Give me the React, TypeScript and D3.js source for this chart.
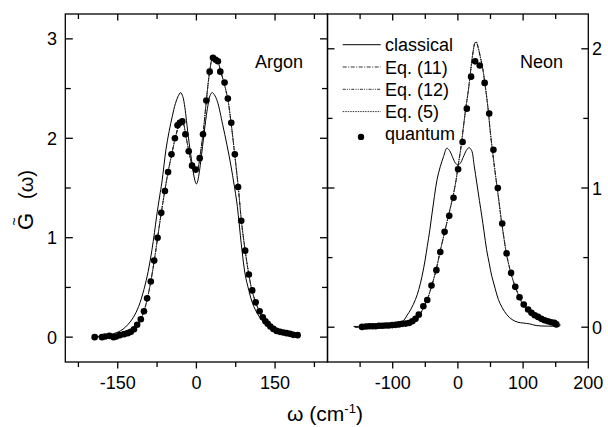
import React from "react";
import * as d3 from "d3";

type P = [number, number];

// ---------- Argon panel data ----------
const argonClassical: P[] = [
  [-195, 0.005], [-180, 0.012], [-165, 0.025], [-150, 0.05], [-140, 0.08], [-130, 0.13], [-120, 0.2],
  [-110, 0.31], [-100, 0.48], [-92, 0.66], [-85, 0.87], [-80, 1.05], [-76, 1.21], [-70, 1.42], [-66, 1.55],
  [-62, 1.72], [-58, 1.89], [-52, 2.07], [-46, 2.22], [-40, 2.35], [-35, 2.42], [-30, 2.46], [-26, 2.42],
  [-22, 2.31], [-19, 2.18], [-14, 1.96], [-9.5, 1.79], [-5, 1.63], [-2, 1.56], [0, 1.54], [2, 1.56],
  [5, 1.64], [9.5, 1.82], [14, 2.02], [19, 2.23], [23, 2.36], [26, 2.43], [30, 2.46], [34, 2.44],
  [40, 2.37], [50, 2.14], [58, 1.94], [66, 1.72], [72, 1.53], [77, 1.36], [81, 1.17], [87, 0.87],
  [93, 0.63], [100, 0.47], [107, 0.34], [117, 0.23], [125, 0.17], [133, 0.13], [145, 0.09], [155, 0.065],
  [170, 0.04], [185, 0.025], [195, 0.015],
];

const argonEq: P[] = [
  [-190, 0.003], [-170, 0.008], [-150, 0.015], [-135, 0.03], [-125, 0.05], [-115, 0.1], [-107, 0.17],
  [-100, 0.26], [-93, 0.4], [-87, 0.56], [-80, 0.78], [-74, 1.0], [-67, 1.25], [-60, 1.48], [-54, 1.66],
  [-47, 1.84], [-40, 2.01], [-34, 2.12], [-29, 2.17], [-25, 2.15], [-20, 2.02], [-14, 1.86], [-8, 1.72],
  [-3, 1.66], [0, 1.66], [4, 1.72], [8, 1.86], [13, 2.06], [19, 2.38], [25, 2.66], [30, 2.8], [34, 2.83],
  [40, 2.79], [46, 2.68], [53, 2.55], [60, 2.39], [66, 2.16], [73, 1.84], [80, 1.5], [86, 1.16],
  [93, 0.87], [100, 0.63], [106, 0.47], [113, 0.35], [120, 0.26], [127, 0.19], [135, 0.14], [145, 0.09],
  [155, 0.06], [165, 0.045], [175, 0.035], [185, 0.025], [195, 0.02],
];

const argonQuantum: P[] = [
  [-194, 0.0], [-180, 0.0], [-174, 0.006], [-166, 0.013], [-158, 0.0], [-153, 0.006], [-146, 0.02],
  [-138, 0.03], [-131, 0.04], [-125, 0.053], [-119, 0.08], [-113, 0.124], [-106, 0.18], [-100, 0.26],
  [-94, 0.39], [-87, 0.56], [-80.5, 0.77], [-74, 1.0], [-67, 1.25], [-60, 1.47], [-54, 1.66],
  [-47.5, 1.84], [-41, 2.0], [-36, 2.13], [-31.5, 2.155], [-27, 2.17], [-21, 2.04], [-14.6, 1.87],
  [-8.3, 1.725], [-1.3, 1.685], [6.3, 1.8], [12.6, 2.04], [19, 2.38], [25.3, 2.67], [31.6, 2.81],
  [36.7, 2.79], [41, 2.775], [45.6, 2.67], [53.7, 2.56], [60, 2.4], [66.5, 2.155], [73.3, 1.84],
  [79.5, 1.51], [85.5, 1.17], [93, 0.87], [100, 0.63], [106.5, 0.47], [113, 0.35], [120.5, 0.26],
  [126.5, 0.2], [131.6, 0.16], [136, 0.134], [141, 0.107], [146.8, 0.083], [153, 0.063], [159.5, 0.053],
  [165.8, 0.046], [172, 0.04], [178.5, 0.033], [184.7, 0.023], [193, 0.02],
];

// ---------- Neon panel data ----------
const neonClassical: P[] = [
  [-160, 0.005], [-140, 0.008], [-118, 0.014], [-100, 0.02], [-90, 0.03], [-83, 0.05], [-78, 0.085],
  [-72, 0.13], [-65, 0.2], [-60, 0.27], [-55, 0.366], [-50, 0.49], [-47, 0.58], [-43, 0.7], [-39.6, 0.82],
  [-36, 0.94], [-32, 1.06], [-27, 1.154], [-22, 1.226], [-17, 1.286], [-13, 1.27], [-8, 1.22], [-4, 1.18],
  [0, 1.165], [4, 1.18], [8, 1.22], [13, 1.27], [17, 1.29], [21, 1.27], [25, 1.16], [29, 1.035],
  [33, 0.91], [36.6, 0.8], [40, 0.69], [44, 0.557], [48, 0.46], [52, 0.366], [57, 0.28], [62, 0.2],
  [68, 0.14], [75, 0.09], [83, 0.055], [92, 0.036], [100, 0.03], [110, 0.024], [120, 0.012],
  [135, 0.008], [156, 0.007],
];

const neonEq: P[] = [
  [-158, 0.0], [-140, 0.0], [-120, 0.002], [-100, 0.005], [-85, 0.01], [-75, 0.018], [-68, 0.03],
  [-63, 0.05], [-58, 0.09], [-53, 0.14], [-47, 0.2], [-40, 0.3], [-33, 0.42], [-27, 0.55], [-20, 0.69],
  [-14, 0.81], [-8, 0.93], [-3, 1.05], [0, 1.15], [4, 1.27], [8, 1.42], [12, 1.57], [16, 1.7],
  [20, 1.86], [23, 1.97], [26, 2.04], [28, 2.05], [31, 2.01], [34, 1.95], [38, 1.86], [42, 1.73],
  [46, 1.58], [50, 1.39], [54, 1.23], [58, 1.08], [62, 0.94], [66, 0.79], [70, 0.66], [74, 0.54],
  [78, 0.45], [83, 0.36], [88, 0.29], [94, 0.22], [100, 0.16], [107, 0.12], [115, 0.085], [123, 0.06],
  [131, 0.045], [140, 0.03], [150, 0.022], [158, 0.015],
];

const neonQuantum: P[] = [
  [-147, 0.002], [-141, 0.005], [-136, 0.007], [-131, 0.007], [-126, 0.007], [-121, 0.01], [-116, 0.01],
  [-111, 0.012], [-106, 0.012], [-100.6, 0.015], [-95.5, 0.017], [-90.5, 0.02], [-85.4, 0.024],
  [-80, 0.026], [-75, 0.03], [-70, 0.043], [-65, 0.06], [-60, 0.09], [-53, 0.15], [-47, 0.195],
  [-40.5, 0.3], [-33, 0.41], [-27, 0.54], [-20.4, 0.685], [-13.3, 0.8], [-6.7, 0.93], [0.3, 1.135],
  [7.2, 1.33], [13.7, 1.57], [20.2, 1.8], [26.4, 1.91], [33.5, 1.88], [41, 1.755], [48, 1.535],
  [54.5, 1.275], [61.2, 1.0], [68, 0.745], [74.7, 0.53], [81.5, 0.39], [88, 0.29], [94.5, 0.215],
  [101, 0.163], [107.7, 0.127], [112.8, 0.103], [117.8, 0.086], [123, 0.074], [128, 0.06], [133, 0.05],
  [138, 0.043], [143, 0.036], [148, 0.031], [151, 0.02],
];

// ---------- ticks ----------
const argonXTicks = [-225, -150, -75, 0, 75, 150, 225];
const argonXLabels = [-150, 0, 150];
const argonYTicks = [0, 0.5, 1, 1.5, 2, 2.5, 3];
const argonYLabels = [0, 1, 2, 3];
const neonXTicks = [-150, -100, -50, 0, 50, 100, 150, 200];
const neonXLabels = [-100, 0, 100, 200];
const neonYTicks = [0, 0.5, 1, 1.5, 2];
const neonYLabels = [0, 1, 2];

const legendItems = [
  { label: "classical", dash: "" },
  { label: "Eq. (11)", dash: "4,1.5,1,1.5" },
  { label: "Eq. (12)", dash: "3,1.2,1,1.2,1,1.2" },
  { label: "Eq. (5)", dash: "1.5,1" },
  { label: "quantum", dash: null as string | null },
];

const FONT = "'Liberation Sans', Arial, Helvetica, sans-serif";
const TOP = 14;
const BOTTOM = 362;
const X0 = 65.3;
const XMID = 327.5;
const X1 = 588.3;

const eqDashes = ["4,1.5,1,1.5", "3,1.2,1,1.2,1,1.2", "1.5,1"];

export default function App() {
  const ax = d3.scaleLinear().domain([-250, 250]).range([X0, XMID]);
  const ay = d3.scaleLinear().domain([-0.25, 3.25]).range([BOTTOM, TOP]);
  const nx = d3.scaleLinear().domain([-200, 200]).range([XMID, X1]);
  const ny = d3.scaleLinear().domain([-0.25, 2.25]).range([BOTTOM, TOP]);

  const mkLine = (xs: d3.ScaleLinear<number, number>, ys: d3.ScaleLinear<number, number>) =>
    d3
      .line<P>()
      .x((d) => xs(d[0]))
      .y((d) => ys(d[1]))
      .curve(d3.curveCatmullRom.alpha(0.5));

  const aLine = mkLine(ax, ay);
  const nLine = mkLine(nx, ny);

  const isMajorY = (v: number) => Math.abs(v - Math.round(v)) < 1e-9;
  const lw = 1.3;

  return (
    <svg
      width={608}
      height={427}
      viewBox="0 0 608 427"
      style={{ position: "absolute", left: 0, top: 0, display: "block", background: "#fff" }}
      fontFamily={FONT}
    >
      <rect x={0} y={0} width={608} height={427} fill="#fff" />

      {/* ---------- Argon curves ---------- */}
      <path d={aLine(argonClassical) || ""} fill="none" stroke="#000" strokeWidth={1} />
      {eqDashes.map((ds, i) => (
        <path key={"ae" + i} d={aLine(argonEq) || ""} fill="none" stroke="#111" strokeWidth={0.8} strokeDasharray={ds} />
      ))}
      {argonQuantum.map((d, i) => (
        <circle key={"aq" + i} cx={ax(d[0])} cy={ay(d[1])} r={3.3} fill="#000" />
      ))}

      {/* ---------- Neon curves ---------- */}
      <path d={nLine(neonClassical) || ""} fill="none" stroke="#000" strokeWidth={1} />
      {eqDashes.map((ds, i) => (
        <path key={"ne" + i} d={nLine(neonEq) || ""} fill="none" stroke="#111" strokeWidth={0.8} strokeDasharray={ds} />
      ))}
      {neonQuantum.map((d, i) => (
        <circle key={"nq" + i} cx={nx(d[0])} cy={ny(d[1])} r={3.3} fill="#000" />
      ))}

      {/* ---------- frames ---------- */}
      <rect x={X0} y={TOP} width={XMID - X0} height={BOTTOM - TOP} fill="none" stroke="#000" strokeWidth={lw} />
      <rect x={XMID} y={TOP} width={X1 - XMID} height={BOTTOM - TOP} fill="none" stroke="#000" strokeWidth={lw} />

      {/* ---------- Argon ticks ---------- */}
      {argonXTicks.map((t) => {
        const major = argonXLabels.includes(t);
        const L = major ? 6.5 : 5;
        return (
          <g key={"axt" + t}>
            <line x1={ax(t)} x2={ax(t)} y1={TOP} y2={TOP + L} stroke="#000" strokeWidth={lw} />
            <line x1={ax(t)} x2={ax(t)} y1={BOTTOM} y2={BOTTOM + L} stroke="#000" strokeWidth={lw} />
          </g>
        );
      })}
      {argonXLabels.map((t) => (
        <text key={"axl" + t} x={ax(t)} y={389} textAnchor="middle" fontSize={18}>
          {t}
        </text>
      ))}
      {argonYTicks.map((t) => {
        const L = isMajorY(t) ? 7.5 : 5.5;
        return (
          <g key={"ayt" + t}>
            <line x1={X0} x2={X0 + L} y1={ay(t)} y2={ay(t)} stroke="#000" strokeWidth={lw} />
            <line x1={XMID - L} x2={XMID} y1={ay(t)} y2={ay(t)} stroke="#000" strokeWidth={lw} />
          </g>
        );
      })}
      {argonYLabels.map((t) => (
        <text key={"ayl" + t} x={57} y={ay(t) + 6.5} textAnchor="end" fontSize={18}>
          {t}
        </text>
      ))}

      {/* ---------- Neon ticks ---------- */}
      {neonXTicks.map((t) => {
        const major = neonXLabels.includes(t);
        const L = major ? 6.5 : 5;
        return (
          <g key={"nxt" + t}>
            {t < 200 && <line x1={nx(t)} x2={nx(t)} y1={TOP} y2={TOP + L} stroke="#000" strokeWidth={lw} />}
            <line x1={nx(t)} x2={nx(t)} y1={BOTTOM} y2={BOTTOM + L} stroke="#000" strokeWidth={lw} />
          </g>
        );
      })}
      {neonXLabels.map((t) => (
        <text key={"nxl" + t} x={nx(t)} y={389} textAnchor="middle" fontSize={18}>
          {t}
        </text>
      ))}
      {neonYTicks.map((t) => {
        const L = isMajorY(t) ? 7 : 5;
        return (
          <g key={"nyt" + t}>
            <line x1={XMID} x2={XMID + L} y1={ny(t)} y2={ny(t)} stroke="#000" strokeWidth={lw} />
            <line x1={X1 - L} x2={X1} y1={ny(t)} y2={ny(t)} stroke="#000" strokeWidth={lw} />
          </g>
        );
      })}
      {neonYLabels.map((t) => (
        <text key={"nyl" + t} x={592} y={ny(t) + 6.5} textAnchor="start" fontSize={18}>
          {t}
        </text>
      ))}

      {/* ---------- panel labels ---------- */}
      <text x={255} y={68} fontSize={18}>
        Argon
      </text>
      <text x={520} y={68} fontSize={18}>
        Neon
      </text>

      {/* ---------- legend ---------- */}
      {legendItems.map((it, i) => {
        const y = 44.7 + i * 22.3;
        return (
          <g key={"lg" + i}>
            {it.dash !== null ? (
              <line
                x1={342.7}
                x2={380.7}
                y1={y}
                y2={y}
                stroke="#000"
                strokeWidth={it.dash ? 0.8 : 1}
                strokeDasharray={it.dash || undefined}
              />
            ) : (
              <circle cx={361} cy={y + 3} r={3.2} fill="#000" />
            )}
            <text x={385} y={y + 6.5} fontSize={18}>
              {it.label}
            </text>
          </g>
        );
      })}

      {/* ---------- axis titles ---------- */}
      <text x={325} y={421} textAnchor="middle" fontSize={21}>
        ω (cm
        <tspan dy={-8} fontSize={13}>
          -1
        </tspan>
        <tspan dy={8}>)</tspan>
      </text>
      <g transform="translate(33,200) rotate(-90)">
        <text x={-30} y={0} fontSize={22}>
          G
        </text>
        <text x={30} y={0} fontSize={20} textAnchor="end">
          (ω)
        </text>
        <text x={-30 + 8.5} y={-14} fontSize={14} textAnchor="middle">
          ~
        </text>
      </g>
    </svg>
  );
}
